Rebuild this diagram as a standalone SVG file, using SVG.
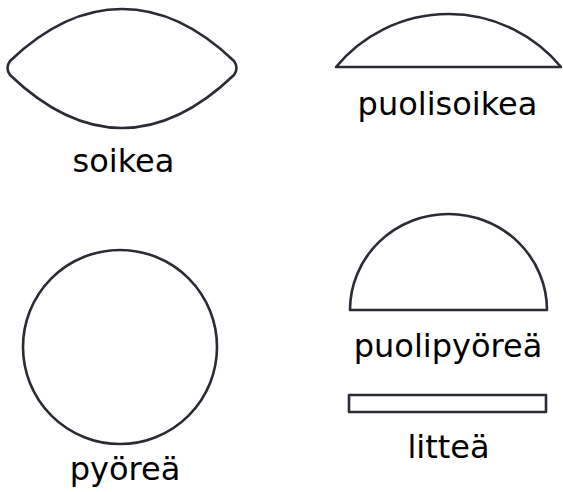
<svg xmlns="http://www.w3.org/2000/svg" width="563" height="492" viewBox="0 0 563 492">
<style>
.s{fill:#fff;stroke:#2b2b36;stroke-width:2.6;stroke-linejoin:round}
.t{font-family:"DejaVu Sans","Liberation Sans",sans-serif;font-size:32px;fill:#000;text-anchor:middle}
</style>
<rect width="563" height="492" fill="#fff"/>
<g id="soikea">
<path class="s" d="M10 61 C34 38 72 9 122 9 C172 9 210 38 234 61 Q239 68 234 75 C210 98 172 128 122 128 C72 128 34 98 10 75 Q5 68 10 61 Z"/>
<text class="t" x="123.5" y="172">soikea</text>
</g>
<g id="puolisoikea">
<path class="s" d="M336 67 A146 146 0 0 1 561 67 Z"/>
<text class="t" x="447.5" y="115">puolisoikea</text>
</g>
<g id="pyorea">
<circle class="s" cx="120" cy="347" r="97"/>
<text class="t" x="125" y="480">pyöreä</text>
</g>
<g id="puolipyorea">
<path class="s" d="M350 310 A98.5 96 0 0 1 547 310 Z"/>
<text class="t" x="448" y="357">puolipyöreä</text>
</g>
<g id="littea">
<rect class="s" x="349" y="395" width="197" height="17"/>
<text class="t" x="448.5" y="458">litteä</text>
</g>
</svg>
